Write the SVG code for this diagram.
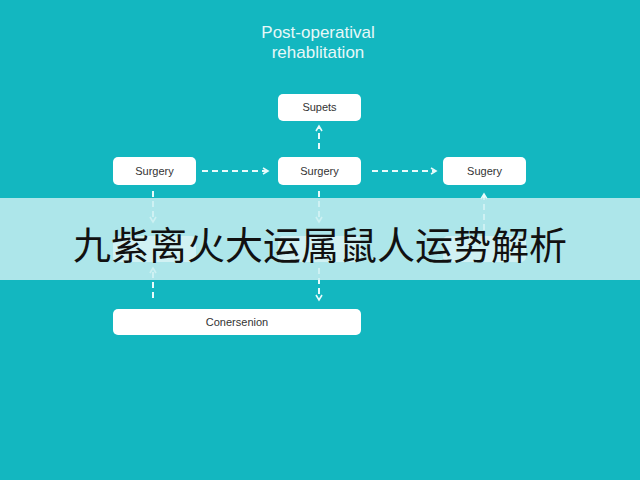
<svg xmlns="http://www.w3.org/2000/svg" width="640" height="480" viewBox="0 0 640 480">
<defs>
<style>
.n rect{fill:#fff;rx:5}
.n text{font-family:"Liberation Sans",Arial,sans-serif;font-size:11px;fill:#333;text-anchor:middle}
.c line{stroke:#e8fbfb;stroke-width:2;stroke-dasharray:6 4;marker-end:url(#a)}
</style>
<marker id="a" markerWidth="8" markerHeight="8" refX="6" refY="4" orient="auto" markerUnits="userSpaceOnUse"><path d="M1,1 L6,4 L1,7" fill="none" stroke="#e8fbfb" stroke-width="1.6"/></marker>
</defs>
<rect width="640" height="480" fill="#13b7c0"/>
<text x="318" y="38" font-family="Liberation Sans,Arial,sans-serif" font-size="17" fill="#e6f8f8" text-anchor="middle">Post-operatival</text>
<text x="318" y="58" font-family="Liberation Sans,Arial,sans-serif" font-size="17" fill="#e6f8f8" text-anchor="middle">rehablitation</text>
<g class="c">
<line x1="319" y1="149" x2="319" y2="126"/>
<line x1="202" y1="171" x2="268" y2="171"/>
<line x1="372" y1="171" x2="436" y2="171"/>
<line x1="153" y1="191" x2="153" y2="222"/>
<line x1="319" y1="191" x2="319" y2="222"/>
<line x1="484" y1="230" x2="484" y2="194"/>
<line x1="153" y1="298" x2="153" y2="268"/>
<line x1="319" y1="268" x2="319" y2="300"/>
</g>
<g id="supets" class="n"><rect x="278" y="94" width="83" height="27"/><text x="319.5" y="111">Supets</text></g>
<g id="s1" class="n"><rect x="113" y="157" width="83" height="28"/><text x="154.5" y="175">Surgery</text></g>
<g id="s2" class="n"><rect x="278" y="157" width="83" height="28"/><text x="319.5" y="175">Surgery</text></g>
<g id="s3" class="n"><rect x="443" y="157" width="83" height="28"/><text x="484.5" y="175">Sugery</text></g>
<g id="h1" class="n"><rect x="113" y="236" width="83" height="26"/></g>
<g id="h2" class="n"><rect x="278" y="236" width="83" height="26"/></g>
<g id="h3" class="n"><rect x="443" y="236" width="83" height="26"/></g>
<g id="conv" class="n"><rect x="113" y="309" width="248" height="26"/><text x="237" y="326">Conersenion</text></g>
<rect x="0" y="198" width="640" height="82" fill="#c9eff1" opacity="0.85"/>
<text x="320" y="259" font-family="Noto Sans CJK SC,sans-serif" font-size="38" fill="#111" text-anchor="middle">九紫离火大运属鼠人运势解析</text>
</svg>
